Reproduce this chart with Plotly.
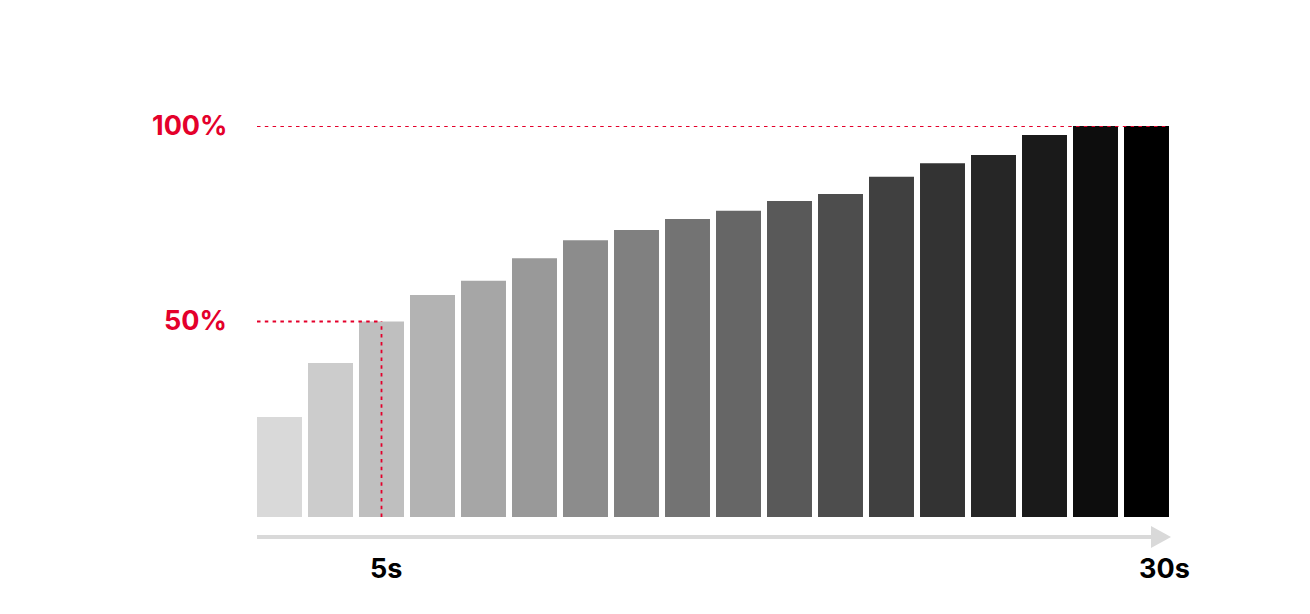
import plotly.graph_objects as go

# ── Data ─────────────────────────────────────────────────────────────────────
steps = list(range(18))
values = [25.6, 39.4, 50, 56.8, 60.4, 66.2, 70.8, 73.4, 76.2,
          78.3, 80.8, 82.6, 87.0, 90.5, 92.6, 97.7, 100, 100]
gray_levels = [217, 204, 191, 179, 166, 153, 140, 128, 115,
               102, 89, 77, 64, 51, 38, 26, 13, 0]
start_label, end_label = "5s", "30s"
start_idx, end_idx = 2, 17
ref_levels = [50, 100]
ref_labels = ["50%", "100%"]

RED = "#e4002b"
ARROW = "#d9d9d9"
FONT = "Inter, Noto Sans, sans-serif"

# page body adds 8px margin, so the figure is a bit smaller
OFF = 8
W, H = 1310 - OFF, 614 - OFF
L, R, T, B = 254 - OFF, 138, 126 - OFF, 97
PW, PH = W - L - R, H - T - B


def px_x(x):
    return (x - OFF - L) / PW


def px_y(y):
    return (H - B - (y - OFF)) / PH


colors = [f"rgb({g},{g},{g})" for g in gray_levels]
bargap = 0.118
half = (1 - bargap) / 2

fig = go.Figure(go.Bar(
    x=steps, y=values,
    marker=dict(color=colors, line_width=0),
    width=1 - bargap,
))

# reference lines
dash = dict(color=RED, width=1.8, dash="3.5px,4.3px")
fig.add_shape(type="line", xref="x", yref="y",
              x0=steps[0] - half, x1=steps[-1] + half, y0=100, y1=100, line=dash)
fig.add_shape(type="line", xref="x", yref="y",
              x0=steps[0] - half, x1=start_idx, y0=values[start_idx], y1=values[start_idx], line=dash)
fig.add_shape(type="line", xref="x", yref="y",
              x0=start_idx, x1=start_idx, y0=0, y1=values[start_idx], line=dash)

# time arrow
fig.add_shape(type="line", xref="paper", yref="paper",
              x0=px_x(257), x1=px_x(1152), y0=px_y(537), y1=px_y(537),
              line=dict(color=ARROW, width=4))
fig.add_shape(type="path", xref="paper", yref="paper",
              path=f"M {px_x(1151)} {px_y(526)} L {px_x(1171)} {px_y(537)} "
                   f"L {px_x(1151)} {px_y(548)} Z",
              fillcolor=ARROW, line_width=0)

# labels
for lvl, txt in zip(ref_levels, ref_labels):
    fig.add_annotation(text=f"<b>{txt}</b>", xref="paper", yref="y",
                       x=px_x(229), y=lvl, xanchor="right", yanchor="middle",
                       yshift=1, showarrow=False,
                       font=dict(size=27, color=RED, family=FONT))

fig.add_annotation(text=f"<b>{start_label}</b>", xref="x", yref="paper",
                   x=start_idx, y=px_y(569), xshift=4, yshift=1,
                   xanchor="center", yanchor="middle",
                   showarrow=False, font=dict(size=27, color="#000", family=FONT))
fig.add_annotation(text=f"<b>{end_label}</b>", xref="x", yref="paper",
                   x=end_idx, y=px_y(569), xshift=18, yshift=1,
                   xanchor="center", yanchor="middle",
                   showarrow=False, font=dict(size=27, color="#000", family=FONT))

fig.update_layout(
    width=W, height=H,
    margin=dict(l=L, r=R, t=T, b=B),
    paper_bgcolor="white", plot_bgcolor="white",
    showlegend=False,
    xaxis=dict(range=[-0.5, 17.5], visible=False),
    yaxis=dict(range=[0, 100], visible=False),
)

fig.write_html("out.html", config={"displayModeBar": False})
